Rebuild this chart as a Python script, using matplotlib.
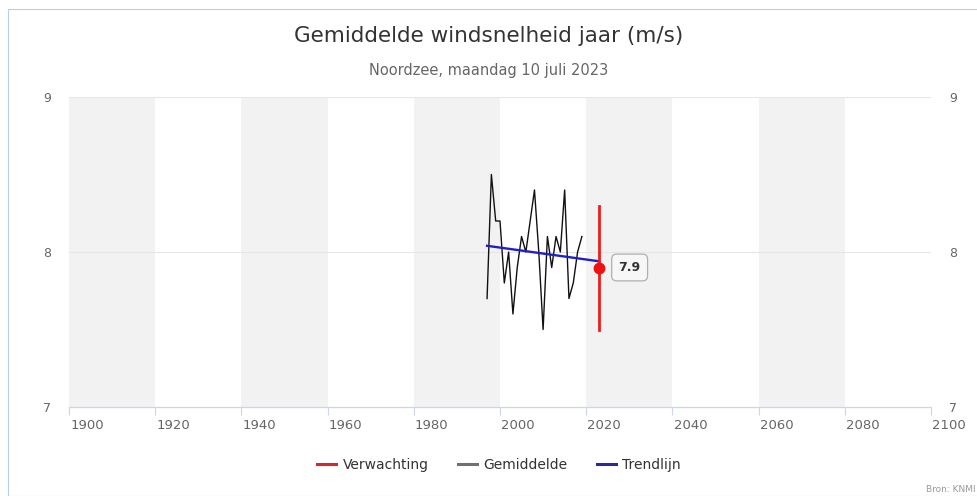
import matplotlib.pyplot as plt
import matplotlib.transforms as mtransforms
from matplotlib.lines import Line2D
from matplotlib.patches import Rectangle

# ================= DATA =================

years = list(range(1997, 2020))
wind = [7.7, 8.5, 8.2, 8.2, 7.8, 8.0, 7.6, 7.9, 8.1, 8.0, 8.2, 8.4,
        8.0, 7.5, 8.1, 7.9, 8.1, 8.0, 8.4, 7.7, 7.8, 8.0, 8.1]

trend_years = [1997, 2023]
trend_vals = [8.04, 7.94]

forecast_year = 2023
forecast_val = 7.9
forecast_low = 7.5
forecast_high = 8.3

band_starts = [1900, 1940, 1980, 2020, 2060]
band_width = 20

x_ticks = list(range(1900, 2101, 20))
y_ticks = [7, 8, 9]

title = "Gemiddelde windsnelheid jaar (m/s)"
subtitle = "Noordzee, maandag 10 juli 2023"
legend_labels = ["Verwachting", "Gemiddelde", "Trendlijn"]

# ================= DRAW =================

plt.rcParams["font.family"] = ["DejaVu Sans"]

W, H = 978, 496
fig = plt.figure(figsize=(W / 100, H / 100), dpi=100)

# light border round the chart (cut off right and bottom)
fig.patches.append(Rectangle((8 / W, 0), 2, (H - 9) / H, transform=fig.transFigure,
                             fill=False, edgecolor="#b7cfe0", linewidth=0.8))

ax = fig.add_axes([69 / W, 89 / H, (931 - 69) / W, (407 - 97) / H])

for start in band_starts:
    ax.axvspan(start, start + band_width, color="#f2f2f2", zorder=0, linewidth=0)

for y in y_ticks[1:]:
    ax.axhline(y, color="#e6e6e6", linewidth=0.8, zorder=1)

ax.plot(years, wind, color="#111111", linewidth=1.0, zorder=3)
ax.plot(trend_years, trend_vals, color="#1f1fc8", linewidth=1.7, zorder=4)
ax.plot([forecast_year, forecast_year], [forecast_low, forecast_high],
        color="#ee1c1c", linewidth=2.0, zorder=5)
ax.plot([forecast_year], [forecast_val], "o", color="#ee1111", markersize=7.5, zorder=6)

ax.annotate(f"{forecast_val}", xy=(forecast_year, forecast_val), xytext=(14, 0),
            textcoords="offset points", ha="left", va="center",
            fontsize=9, fontweight="bold", color="#333333",
            bbox=dict(boxstyle="round,pad=0.55,rounding_size=0.4",
                      facecolor="#f7f7f7", edgecolor="#b0b0b0", linewidth=0.9))

ax.set_xlim(1900, 2100)
ax.set_ylim(7, 9)
ax.set_xticks(x_ticks)
ax.set_yticks(y_ticks)

for side in ["top", "left", "right"]:
    ax.spines[side].set_visible(False)
ax.spines["bottom"].set_color("#ccd6eb")
ax.spines["bottom"].set_linewidth(0.9)

ax.tick_params(axis="x", length=5.8, width=0.8, colors="#666666",
               labelsize=9.5, pad=2.5)
ax.tick_params(axis="x", color="#ccd6eb")
ax.tick_params(axis="y", length=0, labelsize=9, labelcolor="#666666",
               labelleft=True, labelright=True, pad=13)

# labels sit right of their tick marks
offset = mtransforms.ScaledTranslation(18 / 100, 0, fig.dpi_scale_trans)
for lab in ax.get_xticklabels():
    lab.set_transform(lab.get_transform() + offset)

fig.text(0.5, 1 - 36 / H, title, ha="center", va="center", fontsize=15.5, color="#333333")
fig.text(0.5, 1 - 71 / H, subtitle, ha="center", va="center", fontsize=10.5, color="#666666")

handles = [
    Line2D([], [], color="#d42a2a", linewidth=2.2),
    Line2D([], [], color="#707070", linewidth=2.2),
    Line2D([], [], color="#2a2a9a", linewidth=2.2),
]
fig.legend(handles, legend_labels, loc="center", bbox_to_anchor=(499 / W, 1 - 465 / H),
           ncol=3, frameon=False, fontsize=10, handlelength=1.4, handletextpad=0.45,
           columnspacing=2.1, labelcolor="#333333")

fig.text(976 / W, 1 - 490 / H, "Bron: KNMI", ha="right", va="center",
         fontsize=6.5, color="#999999")

fig.savefig("out.png", dpi=100)
plt.close(fig)
